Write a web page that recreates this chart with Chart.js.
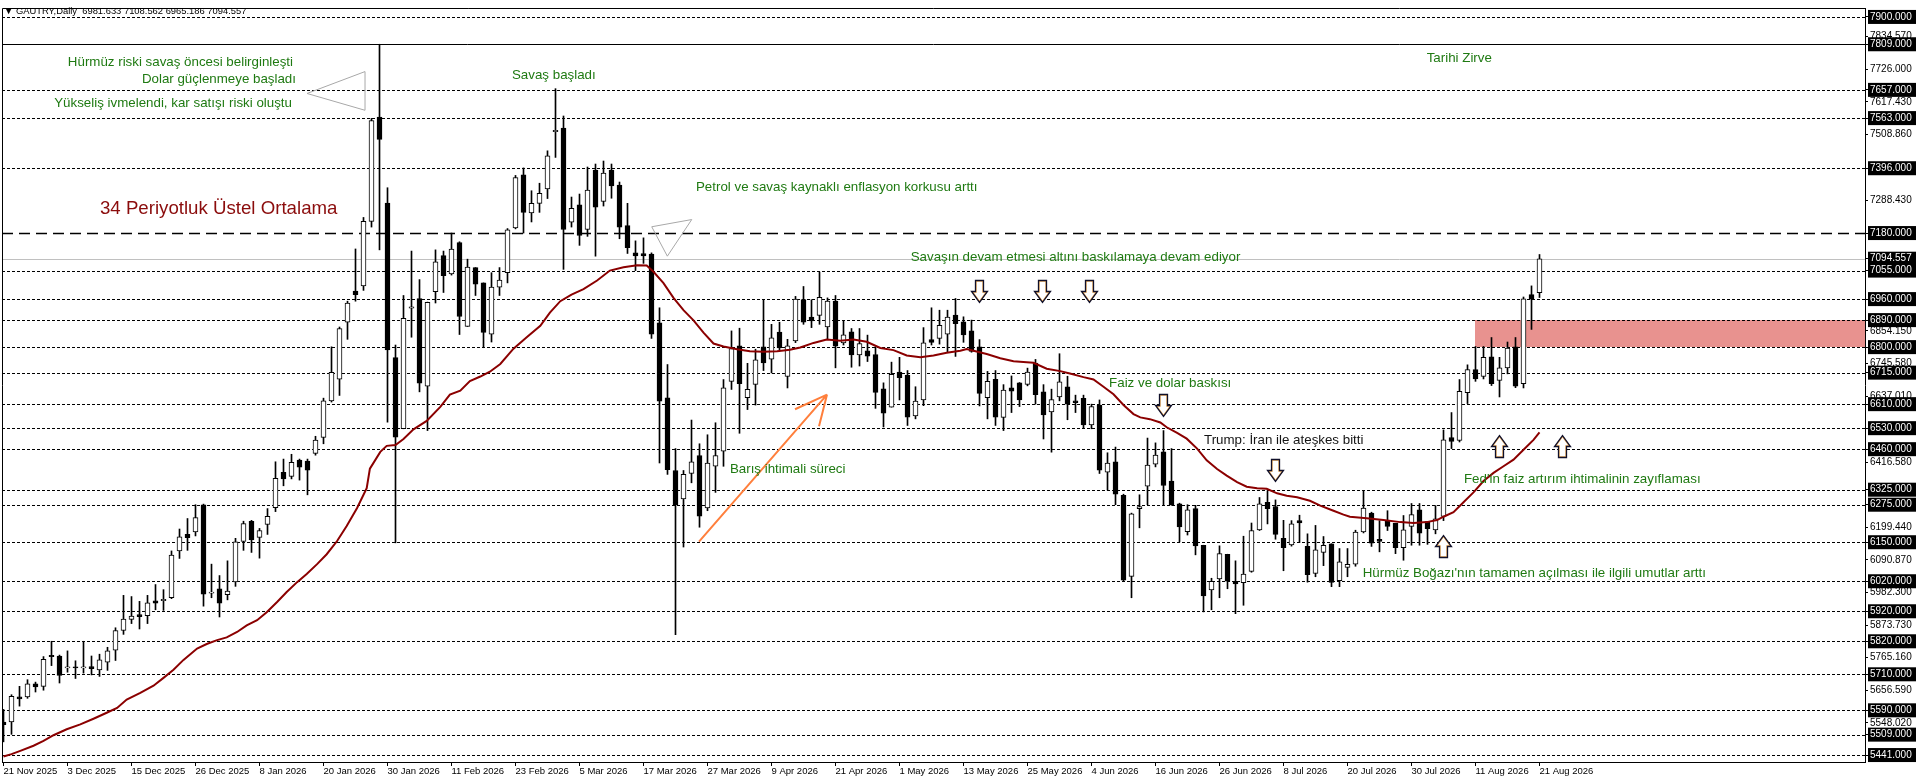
<!DOCTYPE html>
<html lang="tr">
<head>
<meta charset="UTF-8">
<title>GAUTRY Daily</title>
<script src="https://cdn.jsdelivr.net/npm/chart.js"></script>
<style>
    html, body { margin: 0; padding: 0; background: #ffffff; }
    #chart { display: block; }
</style>
</head>
<body>
<canvas id="chart" width="1916" height="781"></canvas>
<script>
// x-axis date labels, one every 8 bars
const dateLabels = ['21 Nov 2025', '3 Dec 2025', '15 Dec 2025', '26 Dec 2025', '8 Jan 2026', '20 Jan 2026',
    '30 Jan 2026', '11 Feb 2026', '23 Feb 2026', '5 Mar 2026', '17 Mar 2026', '27 Mar 2026', '9 Apr 2026',
    '21 Apr 2026', '1 May 2026', '13 May 2026', '25 May 2026', '4 Jun 2026', '16 Jun 2026', '26 Jun 2026',
    '8 Jul 2026', '20 Jul 2026', '30 Jul 2026', '11 Aug 2026', '21 Aug 2026'];

// daily candles (bar index = position in array)
const opens = [
    5551, 5551, 5635, 5635, 5678, 5670, 5773, 5771, 5731, 5735,
    5731, 5736, 5725, 5750, 5790, 5856, 5893, 5909, 5905, 5955,
    5955, 5965, 6121, 6176, 6184, 6275, 5980, 5995, 5975, 6018,
    6153, 6220, 6166, 6209, 6265, 6383, 6369, 6424, 6420, 6446,
    6499, 6621, 6693, 6883, 6987, 7004, 7219, 7566, 7280, 6765,
    6528, 6930, 6962, 6670, 6985, 7105, 7044, 7148, 6869, 7065,
    7014, 6843, 7000, 7048, 7197, 7374, 7247, 7279, 7327, 7518,
    7530, 7216, 7274, 7192, 7390, 7285, 7390, 7340, 7205, 7114,
    7112, 7110, 6881, 6631, 6389, 6294, 6379, 6439, 6264, 6403,
    6453, 6686, 6804, 6632, 6676, 6801, 6760, 6850, 6702, 6821,
    6958, 6900, 6906, 6867, 6953, 6814, 6851, 6774, 6788, 6775,
    6661, 6600, 6717, 6706, 6571, 6624, 6825, 6829, 6843, 6907,
    6884, 6854, 6801, 6632, 6693, 6566, 6664, 6681, 6676, 6747,
    6651, 6584, 6634, 6668, 6621, 6629, 6541, 6607, 6383, 6418,
    6306, 6036, 6262, 6337, 6410, 6451, 6354, 6278, 6185, 6262,
    6140, 5991, 6028, 6110, 6020, 6015, 6053, 6191, 6283, 6269,
    6163, 6141, 6222, 6136, 6046, 6116, 6145, 6022, 6066, 6077,
    6184, 6247, 6160, 6222, 6213, 6132, 6203, 6258, 6219, 6191,
    6236, 6499, 6489, 6648, 6725, 6702, 6768, 6689, 6731, 6801,
    6678, 6975, 6981.633
];
const highs = [
    5593, 5642, 5670, 5692, 5684, 5769, 5820, 5774, 5788, 5755,
    5820, 5771, 5777, 5800, 5865, 5973, 5969, 5953, 5973, 6009,
    5992, 6121, 6194, 6229, 6275, 6277, 6077, 6039, 6088, 6163,
    6220, 6223, 6196, 6262, 6418, 6427, 6443, 6427, 6427, 6503,
    6630, 6801, 6867, 6953, 7127, 7232, 7562, 7809, 7331, 6807,
    6972, 7120, 7025, 6950, 7124, 7120, 7180, 7151, 7093, 7065,
    7014, 7048, 7065, 7195, 7372, 7397, 7321, 7346, 7454, 7661,
    7570, 7300, 7310, 7400, 7410, 7420, 7410, 7350, 7279, 7154,
    7164, 7114, 6931, 6742, 6462, 6389, 6557, 6478, 6508, 6548,
    6692, 6854, 6863, 6746, 6793, 6958, 6876, 6883, 6826, 6969,
    7002, 6958, 7050, 6964, 6972, 6889, 6862, 6862, 6840, 6801,
    6681, 6750, 6766, 6722, 6668, 6865, 6931, 6923, 6923, 6962,
    6901, 6890, 6825, 6719, 6722, 6675, 6704, 6682, 6730, 6759,
    6675, 6660, 6778, 6703, 6640, 6640, 6610, 6624, 6448, 6467,
    6310, 6247, 6308, 6497, 6481, 6522, 6462, 6280, 6275, 6273,
    6140, 6030, 6138, 6110, 6088, 6170, 6214, 6299, 6321, 6291,
    6223, 6222, 6240, 6178, 6206, 6169, 6145, 6129, 6129, 6190,
    6323, 6250, 6222, 6255, 6213, 6239, 6279, 6279, 6219, 6272,
    6524, 6582, 6692, 6741, 6802, 6802, 6832, 6766, 6817, 6832,
    6967, 7004, 7108.562
];
const lows = [
    5485, 5510, 5604, 5630, 5651, 5657, 5739, 5681, 5717, 5696,
    5714, 5708, 5703, 5723, 5756, 5843, 5879, 5861, 5879, 5925,
    5923, 5962, 6096, 6123, 6171, 5937, 5965, 5901, 5958, 6003,
    6123, 6116, 6097, 6176, 6252, 6338, 6361, 6357, 6308, 6440,
    6478, 6617, 6639, 6826, 6953, 6989, 7200, 7124, 6550, 6148,
    6528, 6833, 6651, 6522, 6947, 6982, 7040, 6842, 6869, 6972,
    6798, 6817, 6972, 7014, 7194, 7180, 7217, 7249, 7295, 7432,
    7059, 7200, 7139, 7169, 7103, 7270, 7296, 7161, 7112, 7055,
    7079, 6829, 6414, 6376, 5842, 6134, 6348, 6200, 6255, 6316,
    6403, 6659, 6513, 6592, 6607, 6722, 6714, 6791, 6664, 6815,
    6876, 6865, 6876, 6825, 6731, 6807, 6733, 6737, 6752, 6596,
    6534, 6600, 6624, 6539, 6561, 6605, 6807, 6810, 6783, 6769,
    6816, 6783, 6604, 6561, 6539, 6522, 6582, 6602, 6671, 6610,
    6494, 6450, 6621, 6558, 6582, 6530, 6528, 6379, 6324, 6275,
    6020, 5965, 6198, 6275, 6401, 6275, 6273, 6151, 6174, 6108,
    5918, 5925, 5965, 5995, 5912, 5940, 6050, 6189, 6211, 6160,
    6055, 6137, 6149, 6017, 6035, 6072, 6002, 6002, 6035, 6070,
    6181, 6136, 6118, 6189, 6112, 6090, 6140, 6140, 6143, 6178,
    6222, 6462, 6484, 6612, 6686, 6694, 6672, 6634, 6711, 6665,
    6664, 6859, 6965.186
];
const closes = [
    5542, 5637, 5628, 5678, 5668, 5760, 5769, 5706, 5735, 5731,
    5735, 5729, 5758, 5788, 5856, 5894, 5904, 5902, 5948, 5947,
    5960, 6107, 6168, 6165, 6232, 5977, 5984, 5947, 5987, 6151,
    6212, 6158, 6189, 6236, 6363, 6361, 6416, 6400, 6390, 6490,
    6621, 6716, 6862, 6947, 6975, 7219, 7555, 7492, 6791, 6500,
    6896, 6934, 6680, 6949, 7084, 7038, 7127, 6902, 7067, 7010,
    6849, 7000, 7023, 7191, 7365, 7249, 7279, 7312, 7437, 7522,
    7192, 7262, 7172, 7323, 7266, 7380, 7337, 7200, 7131, 7104,
    7104, 6843, 6620, 6392, 6275, 6376, 6418, 6237, 6414, 6439,
    6664, 6795, 6678, 6659, 6758, 6747, 6831, 6797, 6804, 6960,
    6883, 6887, 6966, 6953, 6803, 6841, 6774, 6812, 6770, 6649,
    6580, 6709, 6698, 6567, 6620, 6814, 6816, 6873, 6900, 6878,
    6841, 6786, 6646, 6686, 6567, 6657, 6653, 6624, 6717, 6642,
    6574, 6625, 6684, 6610, 6615, 6541, 6602, 6390, 6414, 6310,
    6024, 6245, 6269, 6407, 6440, 6339, 6275, 6201, 6258, 6138,
    5971, 6020, 6112, 6020, 6011, 6044, 6189, 6278, 6262, 6176,
    6132, 6211, 6214, 6042, 6125, 6140, 6016, 6085, 6076, 6184,
    6264, 6147, 6153, 6203, 6132, 6191, 6242, 6180, 6195, 6228,
    6491, 6486, 6653, 6725, 6694, 6766, 6678, 6731, 6797, 6670,
    6961, 6960, 7094.557
];

// 34 period EMA (bar position, price)
const emaX = [0, 1, 2.1, 3.75, 5, 6.25, 7.9, 9.6, 11.25, 12.9, 14.2, 15.4, 17.1, 18.75, 20, 21.25, 22.5, 24.2,
    25.4, 26.7, 27.9, 29.2, 30.4, 31.7, 32.9, 34.2, 35.4, 36.7, 37.9, 39.2, 40.4, 41.7, 42.9, 44.2, 45.4, 45.8,
    47.1, 47.9, 49, 50, 51.25, 52.9, 54.6, 55.8, 57.1, 58.3, 59.6, 60.8, 62.1, 63.75, 65.4, 67.1, 68.3, 69.6,
    71, 72.5, 74.2, 75.8, 77.5, 79.2, 80.4, 81.25, 82.5, 83.75, 85, 86.25, 87.5, 88.75, 90, 91.7, 93.3, 95,
    96.7, 98.3, 99.6, 101.25, 102.9, 104.6, 106.25, 107.9, 109.6, 111.25, 112.9, 114.6, 116.25, 117.9, 119.6,
    120.4, 121.25, 122.9, 124.6, 126.25, 127.9, 128.75, 130.4, 132.1, 133.3, 135, 136.25, 137.5, 138.75, 140,
    141.25, 142.1, 143.3, 144.6, 145.4, 146.7, 147.9, 149.2, 150.4, 151.7, 152.9, 154.2, 155.4, 156.7, 157.9,
    159.2, 160.4, 161.7, 163.3, 164.6, 166.25, 167.5, 168.3, 170.4, 172.5, 174.6, 176.25, 177.9, 179.2, 180,
    181.25, 182.5, 183.75, 185, 186.25, 187.5, 188.75, 190, 191.25, 192];
const emaY = [5436, 5444, 5455, 5472, 5488, 5507, 5527, 5543, 5562, 5582, 5598, 5626, 5648, 5672, 5698, 5725, 5758, 5796,
    5811, 5824, 5833, 5851, 5873, 5890, 5917, 5951, 5984, 6017, 6044, 6077, 6110, 6154, 6204, 6264, 6330, 6395,
    6451, 6471, 6474, 6494, 6526, 6554, 6601, 6642, 6655, 6687, 6702, 6718, 6744, 6795, 6833, 6871, 6915, 6953,
    6975, 6993, 7022, 7055, 7066, 7073, 7072, 7051, 7013, 6964, 6923, 6889, 6848, 6812, 6802, 6793, 6786, 6785,
    6786, 6791, 6799, 6814, 6825, 6821, 6825, 6818, 6797, 6790, 6772, 6766, 6772, 6781, 6788,
    6794, 6788, 6777, 6763, 6753, 6750, 6748, 6728, 6720, 6712, 6700, 6692, 6668, 6643, 6607,
    6577, 6566, 6560, 6549, 6533, 6514, 6495, 6462, 6423, 6394, 6372, 6350, 6335, 6330, 6328,
    6313, 6305, 6300, 6288, 6272, 6255, 6242, 6235, 6230, 6224, 6217, 6214, 6217, 6224, 6235,
    6250, 6283, 6316, 6354, 6381, 6403, 6425, 6458, 6491, 6516];

// horizontal price levels (drawn as lines, labelled in black boxes)
const levelLines = [7900, 7809, 7657, 7563, 7396, 7180, 7094.557, 7055, 6960, 6890, 6800, 6715, 6610, 6530,
    6460, 6325, 6275, 6150, 6020, 5920, 5820, 5710, 5590, 5509, 5441];
// plain price scale labels
const scaleLabels = [7834.57, 7726, 7617.43, 7508.86, 7288.43, 6854.15, 6745.58, 6637.01, 6416.58,
    6199.44, 6090.87, 5982.30, 5873.73, 5765.16, 5656.59, 5548.02];
// resistance zone
const zoneFromBar = 183.94;
const zoneLow = 6800;
const zoneHigh = 6890;

const GREEN = '#1f7a12';
const notes = [
    { t: 'Hürmüz riski savaş öncesi belirginleşti', x: 36.19, y: 7748, align: 'right', color: GREEN },
    { t: 'Dolar güçlenmeye başladı', x: 36.56, y: 7691, align: 'right', color: GREEN },
    { t: 'Yükseliş ivmelendi, kar satışı riski oluştu', x: 36.06, y: 7612, align: 'right', color: GREEN },
    { t: 'Savaş başladı', x: 63.56, y: 7705, color: GREEN },
    { t: 'Tarihi Zirve', x: 177.9, y: 7761, color: GREEN },
    { t: '34 Periyotluk Üstel Ortalama', x: 12.06, y: 7261, color: '#8b0c0c', size: 18.67 },
    { t: 'Petrol ve savaş kaynaklı enflasyon korkusu arttı', x: 86.56, y: 7334, color: GREEN },
    { t: 'Savaşın devam etmesi altını baskılamaya devam ediyor', x: 113.4, y: 7099, color: GREEN },
    { t: 'Faiz ve dolar baskısı', x: 138.2, y: 6679, color: GREEN },
    { t: 'Trump: İran ile ateşkes bitti', x: 150.06, y: 6490, color: '#141414' },
    { t: 'Barış ihtimali süreci', x: 90.8, y: 6394, color: GREEN },
    { t: "Fed'in faiz artırım ihtimalinin zayıflaması", x: 182.56, y: 6361, color: GREEN },
    { t: "Hürmüz Boğazı'nın tamamen açılması ile ilgili umutlar arttı", x: 169.9, y: 6047, color: GREEN }
];
const triangles = [
    [[37.94, 7645], [45.19, 7718], [45.19, 7589]],
    [[81.03, 7201], [86.03, 7225], [82.98, 7103]]
];
const trendArrow = { from: [86.94, 6152], to: [102.94, 6642], wings: [[98.94, 6593], [101.94, 6536]] };
const blockArrows = [
    { x: 121.94, y: 6987, dir: 1 }, { x: 129.81, y: 6987, dir: 1 }, { x: 135.69, y: 6987, dir: 1 },
    { x: 144.94, y: 6606, dir: 1 }, { x: 158.94, y: 6391, dir: 1 },
    { x: 179.94, y: 6136, dir: -1 }, { x: 186.94, y: 6470, dir: -1 }, { x: 194.8, y: 6470, dir: -1 }
];

const isLevel = v => levelLines.some(l => Math.abs(l - v) < 0.0005);
const last = closes.length - 1;
const titleText = '\u25BC GAUTRY,Daily  ' + [opens[last], highs[last], lows[last], closes[last]].map(v => v.toFixed(3)).join(' ');

const bodies = opens.map((o, i) => ({ x: i, y: [o, closes[i]] }));
const wicks = lows.map((l, i) => ({ x: i, y: [l, highs[i]] }));
const bodyColors = opens.map((o, i) => closes[i] >= o ? '#ffffff' : '#000000');

function blockArrow(ctx, cx, cy, dir) {
    const pts = [[-4, -11], [4, -11], [4, 0], [8, 0], [0, 11], [-8, 0], [-4, 0]];
    ctx.beginPath();
    pts.forEach(([dx, dy], i) => {
        const px = cx + dx, py = cy + dy * dir;
        if (i) ctx.lineTo(px, py); else ctx.moveTo(px, py);
    });
    ctx.closePath();
    ctx.fillStyle = '#ffffff';
    ctx.fill();
    ctx.save();
    ctx.clip();
    ctx.strokeStyle = '#eeaa55';
    ctx.lineWidth = 2.4;
    ctx.stroke();
    ctx.restore();
    ctx.strokeStyle = '#10102a';
    ctx.lineWidth = 1.3;
    ctx.stroke();
}

const overlay = {
    id: 'overlay',
    beforeDatasetsDraw(chart) {
        const { ctx, chartArea: a, scales: { x, y } } = chart;
        ctx.save();
        ctx.beginPath();
        ctx.rect(a.left, a.top, a.right - a.left, a.bottom - a.top);
        ctx.clip();
        // zone
        const zx = Math.round(x.getPixelForValue(zoneFromBar));
        const zt = Math.round(y.getPixelForValue(zoneHigh));
        const zb = Math.round(y.getPixelForValue(zoneLow));
        ctx.fillStyle = '#e8928f';
        ctx.fillRect(zx, zt, a.right - zx, zb - zt);
        // level lines
        levelLines.forEach(v => {
            const py = Math.round(y.getPixelForValue(v)) + 0.5;
            ctx.beginPath();
            ctx.lineWidth = 1;
            ctx.strokeStyle = '#000000';
            if (v === 7809) {
                ctx.setLineDash([]);
            } else if (v === 7180) {
                ctx.setLineDash([11, 6]);
                ctx.lineWidth = 1.4;
            } else if (v === closes[last]) {
                ctx.setLineDash([]);
                ctx.strokeStyle = '#c0c0c0';
            } else {
                ctx.setLineDash([3, 2]);
            }
            ctx.moveTo(a.left, py);
            ctx.lineTo(a.right, py);
            ctx.stroke();
        });
        ctx.restore();
    },
    afterDatasetsDraw(chart) {
        const { ctx, chartArea: a, scales: { x, y } } = chart;
        ctx.save();
        ctx.beginPath();
        ctx.rect(a.left, a.top, a.right - a.left, a.bottom - a.top);
        ctx.clip();
        // triangles
        ctx.strokeStyle = '#a8a8a8';
        ctx.lineWidth = 1;
        triangles.forEach(tri => {
            ctx.beginPath();
            tri.forEach(([bx, p], i) => {
                const px = x.getPixelForValue(bx), py = y.getPixelForValue(p);
                if (i) ctx.lineTo(px, py); else ctx.moveTo(px, py);
            });
            ctx.closePath();
            ctx.stroke();
        });
        // orange trend arrow
        const tip = [x.getPixelForValue(trendArrow.to[0]), y.getPixelForValue(trendArrow.to[1])];
        ctx.strokeStyle = '#ff7f3c';
        ctx.lineWidth = 2;
        ctx.beginPath();
        ctx.moveTo(x.getPixelForValue(trendArrow.from[0]), y.getPixelForValue(trendArrow.from[1]));
        ctx.lineTo(tip[0], tip[1]);
        trendArrow.wings.forEach(([bx, p]) => {
            ctx.moveTo(tip[0], tip[1]);
            ctx.lineTo(x.getPixelForValue(bx), y.getPixelForValue(p));
        });
        ctx.stroke();
        // block arrows
        blockArrows.forEach(ar => {
            blockArrow(ctx, Math.round(x.getPixelForValue(ar.x)) + 0.5, Math.round(y.getPixelForValue(ar.y)) + 0.5, ar.dir);
        });
        // texts
        ctx.textBaseline = 'middle';
        notes.forEach(n => {
            ctx.font = (n.size || 13.33) + 'px "Liberation Sans", Arial, sans-serif';
            ctx.fillStyle = n.color;
            ctx.textAlign = n.align || 'left';
            ctx.fillText(n.t, x.getPixelForValue(n.x), y.getPixelForValue(n.y));
        });
        ctx.restore();
    },
    afterDraw(chart) {
        const { ctx, chartArea: a } = chart;
        ctx.save();
        ctx.strokeStyle = '#000000';
        ctx.lineWidth = 1;
        ctx.setLineDash([]);
        ctx.beginPath();
        ctx.moveTo(a.left + 0.5, a.bottom);
        ctx.lineTo(a.left + 0.5, a.top + 0.5);
        ctx.lineTo(a.right, a.top + 0.5);
        ctx.stroke();
        ctx.font = '9.4px "Liberation Sans", Arial, sans-serif';
        ctx.fillStyle = '#000000';
        ctx.textBaseline = 'middle';
        ctx.textAlign = 'left';
        ctx.fillText(titleText, a.left + 2, 11);
        ctx.restore();
    }
};

const xMin = -0.1875;
const xMax = xMin + 1863 / 8;
const yMax = 7929.79;
const yMin = 5417.83;

new Chart(document.getElementById('chart'), {
    type: 'bar',
    data: {
        datasets: [
            {
                type: 'line',
                data: emaX.map((v, i) => ({ x: v, y: emaY[i] })),
                borderColor: '#8b0000',
                borderWidth: 2,
                pointRadius: 0,
                tension: 0,
                order: 1
            },
            {
                data: bodies,
                backgroundColor: bodyColors,
                borderColor: '#000000',
                borderWidth: 1,
                borderSkipped: false,
                barThickness: 5,
                grouped: false,
                order: 2
            },
            {
                data: wicks,
                backgroundColor: '#000000',
                borderWidth: 0,
                barThickness: 1,
                grouped: false,
                order: 3
            }
        ]
    },
    options: {
        responsive: false,
        animation: false,
        devicePixelRatio: 1,
        layout: { padding: { left: 2, top: 3, right: 0, bottom: 0 } },
        plugins: { legend: { display: false }, tooltip: { enabled: false } },
        scales: {
            x: {
                type: 'linear',
                min: xMin,
                max: xMax,
                offset: false,
                afterBuildTicks: ax => { ax.ticks = dateLabels.map((d, i) => ({ value: i * 8 })); },
                afterFit: ax => { ax.height = 19; },
                ticks: {
                    autoSkip: false,
                    maxRotation: 0,
                    minRotation: 0,
                    align: 'start',
                    padding: 0,
                    color: '#000000',
                    font: { family: '"Liberation Sans", Arial, sans-serif', size: 9.5 },
                    callback: v => dateLabels[Math.round(v / 8)]
                },
                grid: { offset: false, drawOnChartArea: false, tickLength: 4, color: '#000000' },
                border: { display: true, color: '#000000' }
            },
            y: {
                position: 'right',
                min: yMin,
                max: yMax,
                afterBuildTicks: ax => { ax.ticks = scaleLabels.concat(levelLines).map(v => ({ value: v })); },
                afterFit: ax => { ax.width = 51; },
                ticks: {
                    autoSkip: false,
                    padding: 2,
                    font: { family: '"Liberation Sans", Arial, sans-serif', size: 10 },
                    color: c => isLevel(c.tick.value) ? '#ffffff' : '#000000',
                    showLabelBackdrop: c => isLevel(c.tick.value),
                    backdropColor: '#000000',
                    backdropPadding: { left: 2, right: 6, top: 1, bottom: 1 },
                    callback: v => Number(v).toFixed(3)
                },
                grid: { drawOnChartArea: false, tickLength: 3, color: '#000000' },
                border: { display: true, color: '#000000' }
            }
        }
    },
    plugins: [overlay]
});
</script>
</body>
</html>
